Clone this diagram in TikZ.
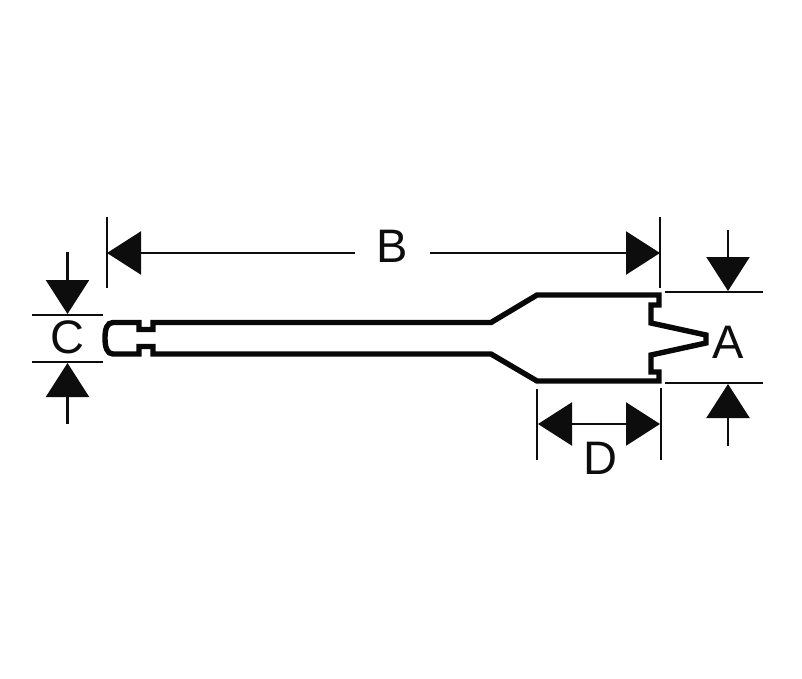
\documentclass[tikz,border=0pt]{standalone}
\usepackage{fontspec}
\setmainfont{Liberation Sans}
\usetikzlibrary{arrows.meta}
\tikzset{
  part/.style={draw=black!97,line width=5.4pt,line join=miter,fill=none},
  ext/.style={draw=black!95,line width=2.3pt},
  dimline/.style={draw=black!95,line width=2.3pt,-{Triangle[length=34pt,width=43pt]}},
  dimlab/.style={font=\fontsize{47}{47}\selectfont,text=black!95,inner sep=0pt}
}
\begin{document}
\begin{tikzpicture}[x=1pt,y=-1pt]
\useasboundingbox (0,0) rectangle (802,678);
\fill[white] (0,0) rectangle (802,678);
% part outline
\draw[part] (113,322.5) -- (139,322.5) -- (139,329.5) -- (153,329.5) -- (153,322.5)
  -- (491,322.5) -- (537,295) -- (659,295) -- (659,305) -- (651,305) -- (651,323)
  -- (706,335) -- (706,343) -- (651,355) -- (651,372) -- (659,372) -- (659,381)
  -- (537,381) -- (491,354) -- (153,354) -- (153,346.5) -- (139,346.5) -- (139,354)
  -- (113,354) .. controls (107,354) and (105,347) .. (105,338)
  .. controls (105,329) and (107,322.5) .. (113,322.5) -- cycle;
% named anchor points
\coordinate (bL) at (107,253); \coordinate (bR) at (660,253);
\coordinate (bLt) at (107,217); \coordinate (bLb) at (107,288);
\coordinate (bRt) at (660,217); \coordinate (bRb) at (660,288);
\coordinate (cT1) at (32,315); \coordinate (cT2) at (103,315);
\coordinate (cB1) at (32,362); \coordinate (cB2) at (103,362);
\coordinate (cTs) at (67.5,252); \coordinate (cTt) at (67.5,314);
\coordinate (cBs) at (67.5,424); \coordinate (cBt) at (67.5,363);
\coordinate (aT1) at (665,292); \coordinate (aT2) at (763,292);
\coordinate (aB1) at (665,383); \coordinate (aB2) at (763,383);
\coordinate (aTs) at (728,230); \coordinate (aTt) at (728,291);
\coordinate (aBs) at (728,446); \coordinate (aBt) at (728,384);
\coordinate (dLt) at (537,389); \coordinate (dLb) at (537,460);
\coordinate (dRt) at (661,388); \coordinate (dRb) at (661,460);
\coordinate (dL) at (538,424); \coordinate (dR) at (660,424); \coordinate (dM) at (600,424);
% labels
\node[dimlab,minimum width=75pt] (B) at (392.5,246) {B};
\node[dimlab] (C) at (67,337) {C};
\node[dimlab] (A) at (728,342) {A};
\node[dimlab] (D) at (600,458) {D};
% extension lines
\draw[ext] (bLt) -- (bLb);
\draw[ext] (bRt) -- (bRb);
\draw[ext] (cT1) -- (cT2);
\draw[ext] (cB1) -- (cB2);
\draw[ext] (aT1) -- (aT2);
\draw[ext] (aB1) -- (aB2);
\draw[ext] (dLt) -- (dLb);
\draw[ext] (dRt) -- (dRb);
% dimension arrows
\draw[dimline] (B.west |- bL) -- (bL);
\draw[dimline] (B.east |- bR) -- (bR);
\draw[dimline] (cTs) -- (cTt);
\draw[dimline] (cBs) -- (cBt);
\draw[dimline] (aTs) -- (aTt);
\draw[dimline] (aBs) -- (aBt);
\draw[dimline] (dM) -- (dL);
\draw[dimline] (dM) -- (dR);
\end{tikzpicture}
\end{document}
